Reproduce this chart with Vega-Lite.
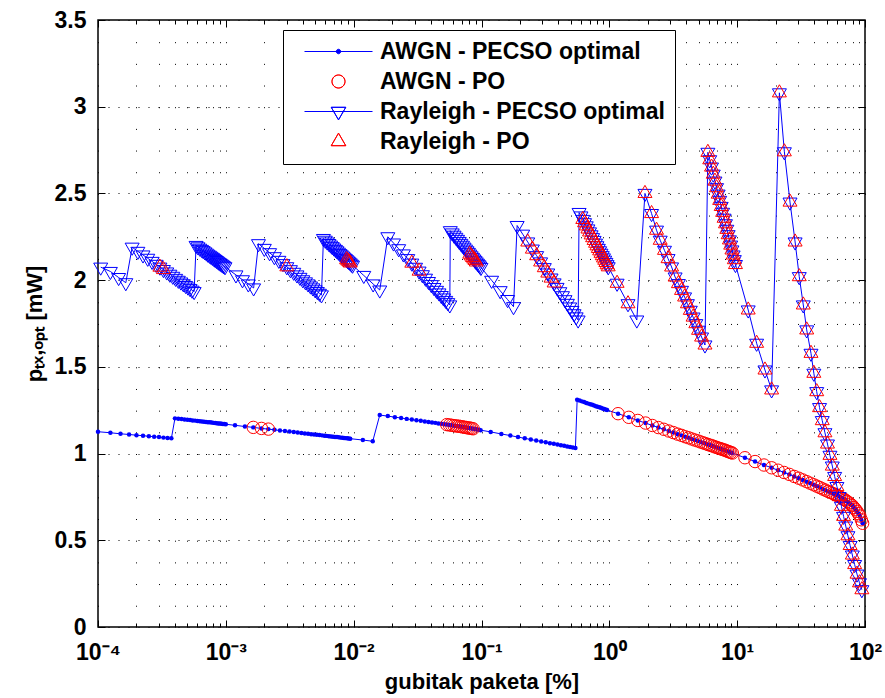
{
"$schema":"https://vega.github.io/schema/vega-lite/v6.json",
"width":767,"height":607,
"autosize":{"type":"none"},
"padding":{"left":98,"top":20,"right":20,"bottom":71},
"background":"white",
"config":{
 "font":"Liberation Sans",
 "view":{"stroke":"black","strokeWidth":1.5},
 "axis":{"labelFont":"Liberation Sans","labelFontSize":23,"labelFontWeight":"bold","labelColor":"black","titleFont":"Liberation Sans","titleFontSize":22,"titleFontWeight":"bold","titleColor":"black","tickColor":"black","tickWidth":1,"domainColor":"black","domainWidth":1.5,"gridColor":"black","gridOpacity":1,"gridWidth":1}
},
"data":{"values":[
{"c":"A","x":1e-4,"y":1.126},{"c":"A","x":1.25e-4,"y":1.120},{"c":"A","x":1.5e-4,"y":1.114},{"c":"A","x":1.75e-4,"y":1.110},{"c":"A","x":2e-4,"y":1.106},{"c":"A","x":2.25e-4,"y":1.103},{"c":"A","x":2.5e-4,"y":1.100},{"c":"A","x":2.75e-4,"y":1.097},{"c":"A","x":3e-4,"y":1.095},{"c":"A","x":3.25e-4,"y":1.092},{"c":"A","x":3.5e-4,"y":1.090},{"c":"A","x":3.75e-4,"y":1.088},
{"c":"A","x":4e-4,"y":1.203},{"c":"A","x":4.25e-4,"y":1.201},{"c":"A","x":4.5e-4,"y":1.199},{"c":"A","x":4.75e-4,"y":1.197},{"c":"A","x":5e-4,"y":1.195},{"c":"A","x":5.25e-4,"y":1.193},{"c":"A","x":5.5e-4,"y":1.191},{"c":"A","x":5.75e-4,"y":1.190},{"c":"A","x":6e-4,"y":1.188},{"c":"A","x":6.25e-4,"y":1.187},{"c":"A","x":6.5e-4,"y":1.185},{"c":"A","x":6.75e-4,"y":1.184},{"c":"A","x":7e-4,"y":1.182},{"c":"A","x":7.25e-4,"y":1.181},{"c":"A","x":7.5e-4,"y":1.180},{"c":"A","x":7.75e-4,"y":1.179},{"c":"A","x":8e-4,"y":1.177},{"c":"A","x":8.25e-4,"y":1.176},{"c":"A","x":8.5e-4,"y":1.175},{"c":"A","x":8.75e-4,"y":1.174},{"c":"A","x":9e-4,"y":1.173},{"c":"A","x":9.25e-4,"y":1.172},{"c":"A","x":9.5e-4,"y":1.171},{"c":"A","x":9.75e-4,"y":1.170},
{"c":"A","x":1e-3,"y":1.169},{"c":"A","x":1.18e-3,"y":1.163},{"c":"A","x":1.41e-3,"y":1.156},{"c":"A","x":1.64e-3,"y":1.151,"p":1},{"c":"A","x":1.9e-3,"y":1.145,"p":1},{"c":"A","x":2.15e-3,"y":1.141,"p":1},{"c":"A","x":2.4e-3,"y":1.137},{"c":"A","x":2.65e-3,"y":1.133},{"c":"A","x":2.9e-3,"y":1.130},{"c":"A","x":3.15e-3,"y":1.127},{"c":"A","x":3.4e-3,"y":1.124},{"c":"A","x":3.65e-3,"y":1.121},{"c":"A","x":3.9e-3,"y":1.119},{"c":"A","x":4.15e-3,"y":1.116},{"c":"A","x":4.4e-3,"y":1.114},{"c":"A","x":4.65e-3,"y":1.112},{"c":"A","x":4.9e-3,"y":1.110},{"c":"A","x":5.15e-3,"y":1.108},{"c":"A","x":5.4e-3,"y":1.107},{"c":"A","x":5.65e-3,"y":1.105},{"c":"A","x":5.9e-3,"y":1.103},{"c":"A","x":6.15e-3,"y":1.102},{"c":"A","x":6.4e-3,"y":1.100},{"c":"A","x":6.65e-3,"y":1.099},{"c":"A","x":6.9e-3,"y":1.097},{"c":"A","x":7.15e-3,"y":1.096},{"c":"A","x":7.4e-3,"y":1.095},{"c":"A","x":7.65e-3,"y":1.094},{"c":"A","x":7.9e-3,"y":1.092},{"c":"A","x":8.15e-3,"y":1.091},{"c":"A","x":8.4e-3,"y":1.090},{"c":"A","x":8.65e-3,"y":1.089},{"c":"A","x":8.9e-3,"y":1.088},{"c":"A","x":9.15e-3,"y":1.087},{"c":"A","x":9.4e-3,"y":1.086},{"c":"A","x":0.0118,"y":1.078},{"c":"A","x":0.0141,"y":1.071},
{"c":"A","x":0.016,"y":1.222},{"c":"A","x":0.0185,"y":1.216},{"c":"A","x":0.021,"y":1.210},{"c":"A","x":0.0235,"y":1.205},{"c":"A","x":0.026,"y":1.200},{"c":"A","x":0.0285,"y":1.196},{"c":"A","x":0.031,"y":1.192},{"c":"A","x":0.0335,"y":1.189},{"c":"A","x":0.036,"y":1.185},{"c":"A","x":0.0385,"y":1.182},{"c":"A","x":0.041,"y":1.179},{"c":"A","x":0.0435,"y":1.177},{"c":"A","x":0.046,"y":1.174},{"c":"A","x":0.0485,"y":1.172},{"c":"A","x":0.051,"y":1.169},{"c":"A","x":0.0535,"y":1.167,"p":1},{"c":"A","x":0.056,"y":1.165,"p":1},{"c":"A","x":0.0585,"y":1.163,"p":1},{"c":"A","x":0.061,"y":1.161,"p":1},{"c":"A","x":0.0635,"y":1.159,"p":1},{"c":"A","x":0.066,"y":1.158,"p":1},{"c":"A","x":0.0685,"y":1.156,"p":1},{"c":"A","x":0.071,"y":1.154,"p":1},{"c":"A","x":0.0735,"y":1.152,"p":1},{"c":"A","x":0.076,"y":1.150,"p":1},{"c":"A","x":0.0785,"y":1.148,"p":1},{"c":"A","x":0.081,"y":1.147,"p":1},{"c":"A","x":0.0835,"y":1.145,"p":1},{"c":"A","x":0.086,"y":1.143,"p":1},{"c":"A","x":0.0885,"y":1.142},{"c":"A","x":0.091,"y":1.140},{"c":"A","x":0.0935,"y":1.138},{"c":"A","x":0.096,"y":1.137},{"c":"A","x":0.0985,"y":1.135},
{"c":"A","x":0.118,"y":1.125},{"c":"A","x":0.143,"y":1.113},{"c":"A","x":0.168,"y":1.104},{"c":"A","x":0.193,"y":1.095},{"c":"A","x":0.218,"y":1.088},{"c":"A","x":0.243,"y":1.081},{"c":"A","x":0.268,"y":1.075},{"c":"A","x":0.293,"y":1.070},{"c":"A","x":0.318,"y":1.065},{"c":"A","x":0.343,"y":1.060},{"c":"A","x":0.368,"y":1.056},{"c":"A","x":0.393,"y":1.052},{"c":"A","x":0.418,"y":1.048},{"c":"A","x":0.443,"y":1.045},{"c":"A","x":0.468,"y":1.041},{"c":"A","x":0.493,"y":1.038},{"c":"A","x":0.518,"y":1.035},{"c":"A","x":0.543,"y":1.032},
{"c":"A","x":0.56,"y":1.310},{"c":"A","x":0.585,"y":1.306},{"c":"A","x":0.61,"y":1.301},{"c":"A","x":0.635,"y":1.297},{"c":"A","x":0.66,"y":1.292},{"c":"A","x":0.685,"y":1.288},{"c":"A","x":0.71,"y":1.284},{"c":"A","x":0.735,"y":1.281},{"c":"A","x":0.76,"y":1.277},{"c":"A","x":0.785,"y":1.273},{"c":"A","x":0.81,"y":1.270},{"c":"A","x":0.835,"y":1.267},{"c":"A","x":0.86,"y":1.264},{"c":"A","x":0.885,"y":1.260},{"c":"A","x":0.91,"y":1.257},{"c":"A","x":0.935,"y":1.254},{"c":"A","x":0.96,"y":1.251},
{"c":"A","x":1.17,"y":1.230,"p":1},{"c":"A","x":1.42,"y":1.209,"p":1},{"c":"A","x":1.67,"y":1.191,"p":1},{"c":"A","x":1.92,"y":1.176,"p":1},{"c":"A","x":2.17,"y":1.162,"p":1},{"c":"A","x":2.42,"y":1.150,"p":1},{"c":"A","x":2.67,"y":1.140,"p":1},{"c":"A","x":2.92,"y":1.130,"p":1},{"c":"A","x":3.17,"y":1.121,"p":1},{"c":"A","x":3.42,"y":1.112,"p":1},{"c":"A","x":3.67,"y":1.105,"p":1},{"c":"A","x":3.92,"y":1.097,"p":1},{"c":"A","x":4.17,"y":1.091,"p":1},{"c":"A","x":4.42,"y":1.084,"p":1},{"c":"A","x":4.67,"y":1.078,"p":1},{"c":"A","x":4.92,"y":1.073,"p":1},{"c":"A","x":5.17,"y":1.067,"p":1},{"c":"A","x":5.42,"y":1.062,"p":1},{"c":"A","x":5.67,"y":1.057,"p":1},{"c":"A","x":5.92,"y":1.052,"p":1},{"c":"A","x":6.17,"y":1.048,"p":1},{"c":"A","x":6.42,"y":1.044,"p":1},{"c":"A","x":6.67,"y":1.039,"p":1},{"c":"A","x":6.92,"y":1.035,"p":1},{"c":"A","x":7.17,"y":1.031,"p":1},{"c":"A","x":7.42,"y":1.028,"p":1},{"c":"A","x":7.67,"y":1.024,"p":1},{"c":"A","x":7.92,"y":1.021,"p":1},{"c":"A","x":8.17,"y":1.017,"p":1},{"c":"A","x":8.42,"y":1.013,"p":1},{"c":"A","x":8.67,"y":1.010,"p":1},{"c":"A","x":8.92,"y":1.006,"p":1},{"c":"A","x":9.17,"y":1.003,"p":1},
{"c":"A","x":11.5,"y":0.976,"p":1},{"c":"A","x":13.8,"y":0.954,"p":1},{"c":"A","x":16.2,"y":0.934,"p":1},{"c":"A","x":18.6,"y":0.918,"p":1},{"c":"A","x":20.9,"y":0.904,"p":1},{"c":"A","x":23.3,"y":0.891,"p":1},{"c":"A","x":25.6,"y":0.880,"p":1},{"c":"A","x":28,"y":0.868,"p":1},{"c":"A","x":30.3,"y":0.858,"p":1},{"c":"A","x":32.6,"y":0.848,"p":1},{"c":"A","x":35,"y":0.838,"p":1},{"c":"A","x":37.3,"y":0.829,"p":1},{"c":"A","x":39.7,"y":0.820,"p":1},{"c":"A","x":42,"y":0.812,"p":1},{"c":"A","x":44.3,"y":0.804,"p":1},{"c":"A","x":46.7,"y":0.796,"p":1},{"c":"A","x":49,"y":0.789,"p":1},{"c":"A","x":51.4,"y":0.782,"p":1},{"c":"A","x":53.7,"y":0.776,"p":1},{"c":"A","x":56,"y":0.770,"p":1},{"c":"A","x":58.4,"y":0.763,"p":1},{"c":"A","x":60.7,"y":0.758,"p":1},{"c":"A","x":63.1,"y":0.752,"p":1},{"c":"A","x":65.4,"y":0.745,"p":1},{"c":"A","x":67.8,"y":0.738,"p":1},{"c":"A","x":70.1,"y":0.732,"p":1},{"c":"A","x":72.4,"y":0.724,"p":1},{"c":"A","x":74.8,"y":0.716,"p":1},{"c":"A","x":77.1,"y":0.708,"p":1},{"c":"A","x":79.5,"y":0.700,"p":1},{"c":"A","x":81.8,"y":0.689,"p":1},{"c":"A","x":84.1,"y":0.679,"p":1},{"c":"A","x":86.5,"y":0.667,"p":1},{"c":"A","x":88.8,"y":0.654,"p":1},{"c":"A","x":91.2,"y":0.640,"p":1},{"c":"A","x":93.5,"y":0.618,"p":1},{"c":"A","x":95.8,"y":0.598,"p":1},
{"c":"R","x":1.05e-4,"y":2.075},{"c":"R","x":1.25e-4,"y":2.050},{"c":"R","x":1.45e-4,"y":2.015},{"c":"R","x":1.65e-4,"y":1.985},
{"c":"R","x":1.85e-4,"y":2.190},{"c":"R","x":2.05e-4,"y":2.166},{"c":"R","x":2.25e-4,"y":2.145},{"c":"R","x":2.45e-4,"y":2.126},{"c":"R","x":2.65e-4,"y":2.108},{"c":"R","x":2.85e-4,"y":2.091},{"c":"R","x":3.05e-4,"y":2.075,"p":1},{"c":"R","x":3.25e-4,"y":2.061,"p":1},{"c":"R","x":3.45e-4,"y":2.047},{"c":"R","x":3.65e-4,"y":2.034},{"c":"R","x":3.85e-4,"y":2.022},{"c":"R","x":4.05e-4,"y":2.010},{"c":"R","x":4.25e-4,"y":1.999},{"c":"R","x":4.45e-4,"y":1.989},{"c":"R","x":4.65e-4,"y":1.979},{"c":"R","x":4.85e-4,"y":1.969},{"c":"R","x":5.05e-4,"y":1.960},{"c":"R","x":5.25e-4,"y":1.951},{"c":"R","x":5.45e-4,"y":1.942},{"c":"R","x":5.65e-4,"y":1.934},
{"c":"R","x":5.85e-4,"y":2.200},{"c":"R","x":6.05e-4,"y":2.192},{"c":"R","x":6.25e-4,"y":2.184},{"c":"R","x":6.45e-4,"y":2.177},{"c":"R","x":6.65e-4,"y":2.170},{"c":"R","x":6.85e-4,"y":2.163},{"c":"R","x":7.05e-4,"y":2.156},{"c":"R","x":7.25e-4,"y":2.149},{"c":"R","x":7.45e-4,"y":2.143},{"c":"R","x":7.65e-4,"y":2.137},{"c":"R","x":7.85e-4,"y":2.131},{"c":"R","x":8.05e-4,"y":2.125},{"c":"R","x":8.25e-4,"y":2.119},{"c":"R","x":8.45e-4,"y":2.113},{"c":"R","x":8.65e-4,"y":2.108},{"c":"R","x":8.85e-4,"y":2.102},{"c":"R","x":9.05e-4,"y":2.097},{"c":"R","x":9.25e-4,"y":2.092},{"c":"R","x":9.45e-4,"y":2.087},{"c":"R","x":9.65e-4,"y":2.082},{"c":"R","x":9.85e-4,"y":2.077},{"c":"R","x":1.2e-3,"y":2.030},{"c":"R","x":1.35e-3,"y":2.002},{"c":"R","x":1.5e-3,"y":1.978},{"c":"R","x":1.65e-3,"y":1.955},
{"c":"R","x":1.8e-3,"y":2.210},{"c":"R","x":2e-3,"y":2.183},{"c":"R","x":2.2e-3,"y":2.158},{"c":"R","x":2.4e-3,"y":2.135},{"c":"R","x":2.6e-3,"y":2.114},{"c":"R","x":2.8e-3,"y":2.095},{"c":"R","x":3e-3,"y":2.077,"p":1},{"c":"R","x":3.2e-3,"y":2.060},{"c":"R","x":3.4e-3,"y":2.045},{"c":"R","x":3.6e-3,"y":2.030},{"c":"R","x":3.8e-3,"y":2.016},{"c":"R","x":4e-3,"y":2.002},{"c":"R","x":4.2e-3,"y":1.990},{"c":"R","x":4.4e-3,"y":1.978},{"c":"R","x":4.6e-3,"y":1.966},{"c":"R","x":4.8e-3,"y":1.955},{"c":"R","x":5e-3,"y":1.944},{"c":"R","x":5.2e-3,"y":1.934},{"c":"R","x":5.4e-3,"y":1.924},{"c":"R","x":5.6e-3,"y":1.915},
{"c":"R","x":5.8e-3,"y":2.240},{"c":"R","x":6e-3,"y":2.230},{"c":"R","x":6.2e-3,"y":2.220},{"c":"R","x":6.4e-3,"y":2.211},{"c":"R","x":6.6e-3,"y":2.202},{"c":"R","x":6.8e-3,"y":2.193},{"c":"R","x":7e-3,"y":2.185},{"c":"R","x":7.2e-3,"y":2.177},{"c":"R","x":7.4e-3,"y":2.169},{"c":"R","x":7.6e-3,"y":2.161},{"c":"R","x":7.8e-3,"y":2.153},{"c":"R","x":8e-3,"y":2.146},{"c":"R","x":8.2e-3,"y":2.139},{"c":"R","x":8.4e-3,"y":2.132},{"c":"R","x":8.6e-3,"y":2.125},{"c":"R","x":8.8e-3,"y":2.118,"p":1},{"c":"R","x":9e-3,"y":2.111,"p":1},{"c":"R","x":9.2e-3,"y":2.105,"p":1},{"c":"R","x":9.4e-3,"y":2.099,"p":1},{"c":"R","x":9.6e-3,"y":2.092},{"c":"R","x":9.8e-3,"y":2.086},{"c":"R","x":0.012,"y":2.027},{"c":"R","x":0.0142,"y":1.978},{"c":"R","x":0.016,"y":1.943},
{"c":"R","x":0.0185,"y":2.250},{"c":"R","x":0.0205,"y":2.214},{"c":"R","x":0.0225,"y":2.181},{"c":"R","x":0.0245,"y":2.151},{"c":"R","x":0.0265,"y":2.124},{"c":"R","x":0.0285,"y":2.098,"p":1},{"c":"R","x":0.0305,"y":2.074},{"c":"R","x":0.0325,"y":2.052,"p":1},{"c":"R","x":0.0345,"y":2.031},{"c":"R","x":0.0365,"y":2.011},{"c":"R","x":0.0385,"y":1.992},{"c":"R","x":0.0405,"y":1.974},{"c":"R","x":0.0425,"y":1.957},{"c":"R","x":0.0445,"y":1.941},{"c":"R","x":0.0465,"y":1.926},{"c":"R","x":0.0485,"y":1.911},{"c":"R","x":0.0505,"y":1.897},{"c":"R","x":0.0525,"y":1.883},{"c":"R","x":0.0545,"y":1.870},{"c":"R","x":0.0565,"y":1.857},
{"c":"R","x":0.057,"y":2.285},{"c":"R","x":0.059,"y":2.272},{"c":"R","x":0.061,"y":2.259},{"c":"R","x":0.063,"y":2.247},{"c":"R","x":0.065,"y":2.235},{"c":"R","x":0.067,"y":2.223},{"c":"R","x":0.069,"y":2.212},{"c":"R","x":0.071,"y":2.201},{"c":"R","x":0.073,"y":2.190},{"c":"R","x":0.075,"y":2.179},{"c":"R","x":0.077,"y":2.169},{"c":"R","x":0.079,"y":2.160},{"c":"R","x":0.081,"y":2.150,"p":1},{"c":"R","x":0.083,"y":2.140,"p":1},{"c":"R","x":0.085,"y":2.131,"p":1},{"c":"R","x":0.087,"y":2.122,"p":1},{"c":"R","x":0.089,"y":2.114,"p":1},{"c":"R","x":0.091,"y":2.105,"p":1},{"c":"R","x":0.093,"y":2.097},{"c":"R","x":0.095,"y":2.089},{"c":"R","x":0.097,"y":2.081},{"c":"R","x":0.099,"y":2.073},{"c":"R","x":0.12,"y":1.999},{"c":"R","x":0.14,"y":1.939},{"c":"R","x":0.16,"y":1.888},{"c":"R","x":0.178,"y":1.847},
{"c":"R","x":0.19,"y":2.315},{"c":"R","x":0.21,"y":2.265},{"c":"R","x":0.23,"y":2.220,"p":1},{"c":"R","x":0.25,"y":2.179,"p":1},{"c":"R","x":0.27,"y":2.141,"p":1},{"c":"R","x":0.29,"y":2.105,"p":1},{"c":"R","x":0.31,"y":2.072,"p":1},{"c":"R","x":0.33,"y":2.041,"p":1},{"c":"R","x":0.35,"y":2.012,"p":1},{"c":"R","x":0.37,"y":1.984,"p":1},{"c":"R","x":0.39,"y":1.958},{"c":"R","x":0.41,"y":1.933},{"c":"R","x":0.43,"y":1.910},{"c":"R","x":0.45,"y":1.887},{"c":"R","x":0.47,"y":1.866},{"c":"R","x":0.49,"y":1.845},{"c":"R","x":0.51,"y":1.825},{"c":"R","x":0.53,"y":1.806},{"c":"R","x":0.55,"y":1.788},{"c":"R","x":0.57,"y":1.770},
{"c":"R","x":0.58,"y":2.390},{"c":"R","x":0.6,"y":2.370},{"c":"R","x":0.62,"y":2.350,"p":1},{"c":"R","x":0.64,"y":2.331,"p":1},{"c":"R","x":0.66,"y":2.313,"p":1},{"c":"R","x":0.68,"y":2.295,"p":1},{"c":"R","x":0.7,"y":2.278,"p":1},{"c":"R","x":0.72,"y":2.261,"p":1},{"c":"R","x":0.74,"y":2.245,"p":1},{"c":"R","x":0.76,"y":2.229,"p":1},{"c":"R","x":0.78,"y":2.213,"p":1},{"c":"R","x":0.8,"y":2.198,"p":1},{"c":"R","x":0.82,"y":2.183,"p":1},{"c":"R","x":0.84,"y":2.169,"p":1},{"c":"R","x":0.86,"y":2.155,"p":1},{"c":"R","x":0.88,"y":2.141,"p":1},{"c":"R","x":0.9,"y":2.128,"p":1},{"c":"R","x":0.92,"y":2.115,"p":1},{"c":"R","x":0.94,"y":2.102,"p":1},{"c":"R","x":0.96,"y":2.089,"p":1},{"c":"R","x":0.98,"y":2.077,"p":1},{"c":"R","x":1.15,"y":1.982,"p":1},{"c":"R","x":1.4,"y":1.864,"p":1},{"c":"R","x":1.64,"y":1.770},
{"c":"R","x":1.9,"y":2.500,"p":1},{"c":"R","x":2.14,"y":2.384,"p":1},{"c":"R","x":2.34,"y":2.288,"p":1},{"c":"R","x":2.5,"y":2.230,"p":1},{"c":"R","x":2.7,"y":2.172,"p":1},{"c":"R","x":2.88,"y":2.124,"p":1},{"c":"R","x":3.07,"y":2.076,"p":1},{"c":"R","x":3.27,"y":2.018,"p":1},{"c":"R","x":3.47,"y":1.980,"p":1},{"c":"R","x":3.67,"y":1.941,"p":1},{"c":"R","x":3.88,"y":1.903,"p":1},{"c":"R","x":4.08,"y":1.864,"p":1},{"c":"R","x":4.3,"y":1.826,"p":1},{"c":"R","x":4.52,"y":1.787,"p":1},{"c":"R","x":4.75,"y":1.749,"p":1},{"c":"R","x":4.99,"y":1.711,"p":1},{"c":"R","x":5.27,"y":1.672,"p":1},{"c":"R","x":5.6,"y":1.626,"p":1},
{"c":"R","x":5.9,"y":2.737,"p":1},{"c":"R","x":6.1,"y":2.694,"p":1},{"c":"R","x":6.3,"y":2.652,"p":1},{"c":"R","x":6.5,"y":2.611,"p":1},{"c":"R","x":6.7,"y":2.571,"p":1},{"c":"R","x":6.9,"y":2.533,"p":1},{"c":"R","x":7.1,"y":2.496,"p":1},{"c":"R","x":7.3,"y":2.460,"p":1},{"c":"R","x":7.5,"y":2.425,"p":1},{"c":"R","x":7.7,"y":2.391,"p":1},{"c":"R","x":7.9,"y":2.357,"p":1},{"c":"R","x":8.1,"y":2.325,"p":1},{"c":"R","x":8.3,"y":2.293,"p":1},{"c":"R","x":8.5,"y":2.262,"p":1},{"c":"R","x":8.7,"y":2.232,"p":1},{"c":"R","x":8.9,"y":2.202,"p":1},{"c":"R","x":9.1,"y":2.174,"p":1},{"c":"R","x":9.3,"y":2.145,"p":1},{"c":"R","x":9.5,"y":2.118,"p":1},{"c":"R","x":9.7,"y":2.090,"p":1},{"c":"R","x":12.2,"y":1.828,"p":1},{"c":"R","x":14.2,"y":1.636,"p":1},{"c":"R","x":16.5,"y":1.482,"p":1},{"c":"R","x":18.6,"y":1.367,"p":1},
{"c":"R","x":21.4,"y":3.080,"p":1},{"c":"R","x":23.4,"y":2.740,"p":1},{"c":"R","x":25.9,"y":2.450,"p":1},{"c":"R","x":28.4,"y":2.220,"p":1},{"c":"R","x":30.6,"y":2.020,"p":1},{"c":"R","x":32.9,"y":1.857,"p":1},{"c":"R","x":35,"y":1.713,"p":1},{"c":"R","x":37.8,"y":1.578,"p":1},{"c":"R","x":39.8,"y":1.463,"p":1},{"c":"R","x":41.9,"y":1.357,"p":1},{"c":"R","x":44.1,"y":1.265,"p":1},{"c":"R","x":46.3,"y":1.190,"p":1},{"c":"R","x":48.6,"y":1.120,"p":1},{"c":"R","x":50.9,"y":1.055,"p":1},{"c":"R","x":53.2,"y":0.990,"p":1},{"c":"R","x":55.5,"y":0.928,"p":1},{"c":"R","x":57.9,"y":0.868,"p":1},{"c":"R","x":60.3,"y":0.810,"p":1},{"c":"R","x":62.8,"y":0.752,"p":1},{"c":"R","x":65.4,"y":0.696,"p":1},{"c":"R","x":68,"y":0.638,"p":1},{"c":"R","x":70.7,"y":0.582,"p":1},{"c":"R","x":73.5,"y":0.526,"p":1},{"c":"R","x":76.5,"y":0.470,"p":1},{"c":"R","x":79.6,"y":0.415,"p":1},{"c":"R","x":83,"y":0.360,"p":1},{"c":"R","x":86.6,"y":0.305,"p":1},{"c":"R","x":90.5,"y":0.255,"p":1},{"c":"R","x":94.5,"y":0.215,"p":1}
]},
"layer":[
{"transform":[{"filter":"datum.c=='A'"}],
 "mark":{"type":"line","strokeWidth":1},
 "encoding":{
  "x":{"field":"x","type":"quantitative","scale":{"type":"log","domain":[0.0001,100],"nice":false},
   "axis":{"orient":"bottom","values":[0.0001,0.001,0.01,0.1,1,10,100],"labelExpr":"datum.value<0.0005?'10\u207b\u2074':datum.value<0.005?'10\u207b\u00b3':datum.value<0.05?'10\u207b\u00b2':datum.value<0.5?'10\u207b\u00b9':datum.value<5?'10\u2070':datum.value<50?'10\u00b9':'10\u00b2'","ticks":false,"grid":true,"gridDash":[1,20.675],"domain":false,"labelPadding":14,"labelFlush":false,"labelOverlap":false,"labelBound":false,"title":"gubitak paketa [%]","titlePadding":7}},
  "y":{"field":"y","type":"quantitative","scale":{"domain":[0,3.5],"nice":false},
   "axis":{"orient":"left","values":[0,0.5,1,1.5,2,2.5,3,3.5],"format":"~g","ticks":false,"grid":true,"gridDash":[1,9],"domain":false,"labelPadding":12,"title":"p\u209c\u2093,\u2092\u209a\u209c [mW]","titlePadding":8}},
  "color":{"datum":"AWGN - PECSO optimal","type":"nominal",
   "scale":{"domain":["AWGN - PECSO optimal","AWGN - PO","Rayleigh - PECSO optimal","Rayleigh - PO"],"range":["#0000ff","#ff0000","#0000ff","#ff0000"]},
   "legend":{"title":null,"orient":"none","legendX":185,"legendY":10,"direction":"vertical","fillColor":"white","strokeColor":"black","padding":10,"rowPadding":6,"labelFont":"Liberation Sans","labelFontSize":23,"labelFontWeight":"bold","labelColor":"black","labelOffset":30,"labelLimit":500,"symbolSize":100,"symbolOffset":34,"symbolStrokeWidth":1,
    "encode":{"symbols":{"update":{
     "shape":{"signal":"datum.value=='AWGN - PECSO optimal'?'M-6.8,0H6.8M-0.45,0A0.45,0.45,0,1,0,0.45,0A0.45,0.45,0,1,0,-0.45,0Z':datum.value=='AWGN - PO'?'M-1.3,0A1.3,1.3,0,1,0,1.3,0A1.3,1.3,0,1,0,-1.3,0ZM-1.3,0A1.3,1.3,0,1,1,1.3,0A1.3,1.3,0,1,1,-1.3,0Z':datum.value=='Rayleigh - PECSO optimal'?'M-6.8,0H6.8M-1.45,-0.84L1.45,-0.84L0,1.67ZM-1.45,-0.84L0,1.67L1.45,-0.84Z':'M0,-1.67L1.45,0.84L-1.45,0.84ZM0,-1.67L-1.45,0.84L1.45,0.84Z'"},
     "fill":{"signal":"datum.value=='AWGN - PECSO optimal'?'#0000ff':'transparent'"},
     "stroke":{"signal":"indexOf(datum.value,'PECSO')>=0?'#0000ff':'#ff0000'"},
     "size":{"value":100},"strokeWidth":{"value":1},"opacity":{"value":1},"strokeDash":{"value":[]}}}}}}
 }},
{"transform":[{"filter":"datum.c=='A'"}],
 "mark":{"type":"point","filled":true,"shape":"circle","size":20,"opacity":1},
 "encoding":{
  "x":{"field":"x","type":"quantitative","scale":{"type":"log","domain":[0.0001,100],"nice":false},
   "axis":{"orient":"top","values":[0.0001,0.001,0.01,0.1,1,10,100],"labels":false,"ticks":true,"tickSize":-7,"grid":false,"domain":false,"title":null}},
  "y":{"field":"y","type":"quantitative","scale":{"domain":[0,3.5],"nice":false},
   "axis":{"orient":"right","values":[0,0.5,1,1.5,2,2.5,3,3.5],"labels":false,"ticks":true,"tickSize":-7,"grid":false,"domain":false,"title":null}},
  "color":{"datum":"AWGN - PECSO optimal","type":"nominal","legend":null}
 }},
{"transform":[{"filter":"datum.c=='A' && datum.p==1"}],
 "mark":{"type":"point","filled":false,"shape":"circle","size":154,"strokeWidth":1,"opacity":1},
 "encoding":{
  "x":{"field":"x","type":"quantitative","scale":{"type":"log","domain":[0.0001,100],"nice":false},
   "axis":{"orient":"bottom","values":[0.0002,0.0003,0.0004,0.0005,0.0006,0.0007,0.0008,0.0009,0.002,0.003,0.004,0.005,0.006,0.007,0.008,0.009,0.02,0.03,0.04,0.05,0.06,0.07,0.08,0.09,0.2,0.3,0.4,0.5,0.6,0.7,0.8,0.9,2,3,4,5,6,7,8,9,20,30,40,50,60,70,80,90],"labels":false,"ticks":true,"tickSize":-4,"grid":true,"gridDash":[1,20.675],"domain":false,"title":null}},
  "y":{"field":"y","type":"quantitative","scale":{"domain":[0,3.5],"nice":false},
   "axis":{"orient":"left","values":[0,0.5,1,1.5,2,2.5,3,3.5],"labels":false,"ticks":true,"tickSize":-7,"grid":false,"domain":false,"title":null}},
  "color":{"datum":"AWGN - PO","type":"nominal","legend":null}
 }},
{"transform":[{"filter":"datum.c=='R'"}],
 "mark":{"type":"line","strokeWidth":1},
 "encoding":{
  "x":{"field":"x","type":"quantitative","scale":{"type":"log","domain":[0.0001,100],"nice":false},
   "axis":{"orient":"top","values":[0.0002,0.0003,0.0004,0.0005,0.0006,0.0007,0.0008,0.0009,0.002,0.003,0.004,0.005,0.006,0.007,0.008,0.009,0.02,0.03,0.04,0.05,0.06,0.07,0.08,0.09,0.2,0.3,0.4,0.5,0.6,0.7,0.8,0.9,2,3,4,5,6,7,8,9,20,30,40,50,60,70,80,90],"labels":false,"ticks":true,"tickSize":-4,"grid":false,"domain":false,"title":null}},
  "y":{"field":"y","type":"quantitative","scale":{"domain":[0,3.5],"nice":false},"axis":null},
  "color":{"datum":"Rayleigh - PECSO optimal","type":"nominal","legend":null}
 }},
{"transform":[{"filter":"datum.c=='R'"}],
 "mark":{"type":"point","filled":false,"shape":"M-7,-4.04L7,-4.04L0,8.08Z","size":4,"strokeWidth":1,"opacity":1},
 "encoding":{
  "x":{"field":"x","type":"quantitative","scale":{"type":"log","domain":[0.0001,100],"nice":false},
   "axis":{"orient":"bottom","values":[0.0001,0.001,0.01,0.1,1,10,100],"labels":false,"ticks":true,"tickSize":-7,"grid":false,"domain":false,"title":null}},
  "y":{"field":"y","type":"quantitative","scale":{"domain":[0,3.5],"nice":false},"axis":null},
  "color":{"datum":"Rayleigh - PECSO optimal","type":"nominal","legend":null}
 }},
{"transform":[{"filter":"datum.c=='R' && datum.p==1"}],
 "mark":{"type":"point","filled":false,"shape":"M0,-8.08L7,4.04L-7,4.04Z","size":4,"strokeWidth":1,"opacity":1},
 "encoding":{
  "x":{"field":"x","type":"quantitative","scale":{"type":"log","domain":[0.0001,100],"nice":false},"axis":null},
  "y":{"field":"y","type":"quantitative","scale":{"domain":[0,3.5],"nice":false},"axis":null},
  "color":{"datum":"Rayleigh - PO","type":"nominal","legend":null}
 }}
],
"resolve":{"axis":{"x":"independent","y":"independent"}}
}
